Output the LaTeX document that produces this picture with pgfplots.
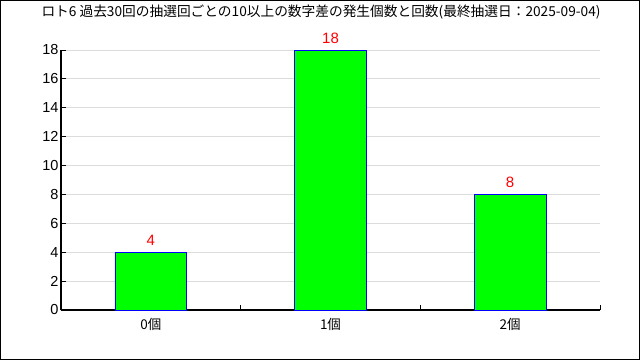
\documentclass[border=0pt]{standalone}
\usepackage{fontspec}
\setmainfont{Liberation Sans}
\newfontfamily\cjk{Noto Sans CJK JP}
\usepackage{pgfplots}
\pgfplotsset{compat=1.18}
\definecolor{bargreen}{RGB}{0,255,0}
\definecolor{gridgray}{RGB}{220,220,220}
\begin{document}
\begin{tikzpicture}
\begin{axis}[
  at={(0pt,0pt)}, anchor=south west, scale only axis,
  width=539pt, height=260pt,
  xmin=-0.5, xmax=2.5, ymin=0, ymax=18,
  axis x line*=bottom, axis y line*=left,
  axis line style={-, line width=1.2pt, black},
  ytick={0,2,...,18},
  ymajorgrids, grid style={gridgray, line width=0.8pt},
  tick align=inside,
  major tick length=4.5pt, minor tick length=5pt,
  ytick style={black, line width=1pt},
  xtick={0,1,2}, xticklabels={0個,1個,2個},
  every major x tick/.append style={draw=none},
  minor xtick={0.5,1.5,2.5},
  every minor x tick/.append style={draw=black, line width=1pt},
  /pgf/number format/assume math mode=true,
  yticklabel style={font=\fontsize{14.5}{16}\selectfont, xshift=1pt},
  xticklabel style={font=\cjk\fontsize{13.5}{15}\selectfont, yshift=-5pt},
  nodes near coords,
  nodes near coords style={font=\fontsize{15}{17}\selectfont, text=red, yshift=3pt},
]
\addplot[ybar, bar width=0.4, fill=bargreen, draw=blue, line width=0.8pt] coordinates {(0,4) (1,18) (2,8)};
\end{axis}
\node[font=\cjk\fontsize{13.7}{15}\selectfont, inner sep=0pt] at (260pt,298pt) {ロト6 過去30回の抽選回ごとの10以上の数字差の発生個数と回数(最終抽選日：2025-09-04)};
\draw[line width=1.2pt] (-60.4pt,-49.4pt) rectangle (578.4pt,309.4pt);
\pgfresetboundingbox
\path[use as bounding box] (-61pt,-50pt) rectangle (579pt,310pt);
\end{tikzpicture}
\end{document}
